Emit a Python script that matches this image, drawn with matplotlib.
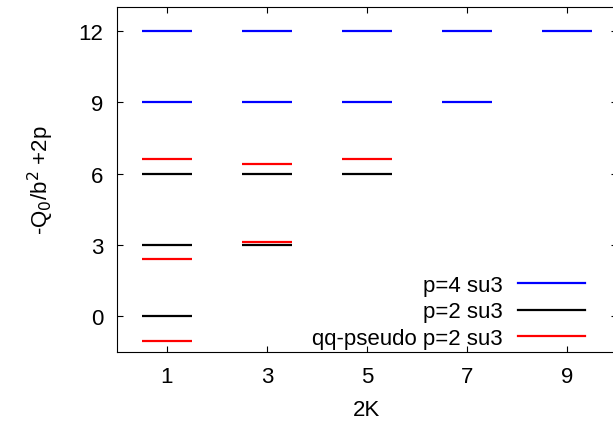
import numpy as np
import matplotlib
matplotlib.use("Agg")
import matplotlib.pyplot as plt
from matplotlib.lines import Line2D

plt.rcParams['font.family'] = ['Liberation Sans', 'DejaVu Sans']

# 2K positions and levels
x_p4 = [1, 3, 5, 7, 1, 3, 5, 7, 9]
y_p4 = [9, 9, 9, 9, 12, 12, 12, 12, 12]

x_p2 = [1, 1, 1, 3, 3, 5]
y_p2 = [0, 3, 6, 3, 6, 6]

x_qq = [1, 1, 1, 3, 3, 5]
y_qq = [-1.04, 2.41, 6.61, 3.11, 6.40, 6.60]

labels = ['p=4 su3', 'p=2 su3', 'qq-pseudo p=2 su3']
colors = ['#0000ff', '#000000', '#ff0000']

fs = 16
fig = plt.figure(figsize=(6.13, 4.27), dpi=100)
ax = fig.add_axes([117/613, 74/427, 500/613, 345/427])

half = 0.5
for xs, ys, c in zip([x_p4, x_p2, x_qq], [y_p4, y_p2, y_qq], colors):
    xs = np.array(xs)
    ax.hlines(ys, xs - half, xs + half, colors=c, linewidth=1.6)

ax.set_xlim(0, 10)
ax.set_ylim(-1.5, 13)
ax.set_xticks([1, 3, 5, 7, 9])
ax.set_yticks([0, 3, 6, 9, 12])
ax.tick_params(direction='in', top=True, right=True, labelsize=fs, length=4.5, pad=10)
ax.set_xlabel('2K', fontsize=fs, labelpad=9)
ax.set_ylabel(r'-Q$_0$/b$^2$ +2p', fontsize=fs, labelpad=16)

handles = [Line2D([], [], color=c, linewidth=1.6) for c in colors]
ax.legend(handles, labels, loc='lower right', bbox_to_anchor=(0.936, 0.008),
          frameon=False, markerfirst=False, fontsize=fs, handlelength=3.0,
          handletextpad=0.7, labelspacing=0.26, borderpad=0, borderaxespad=0)

fig.savefig('out.png', dpi=100)
